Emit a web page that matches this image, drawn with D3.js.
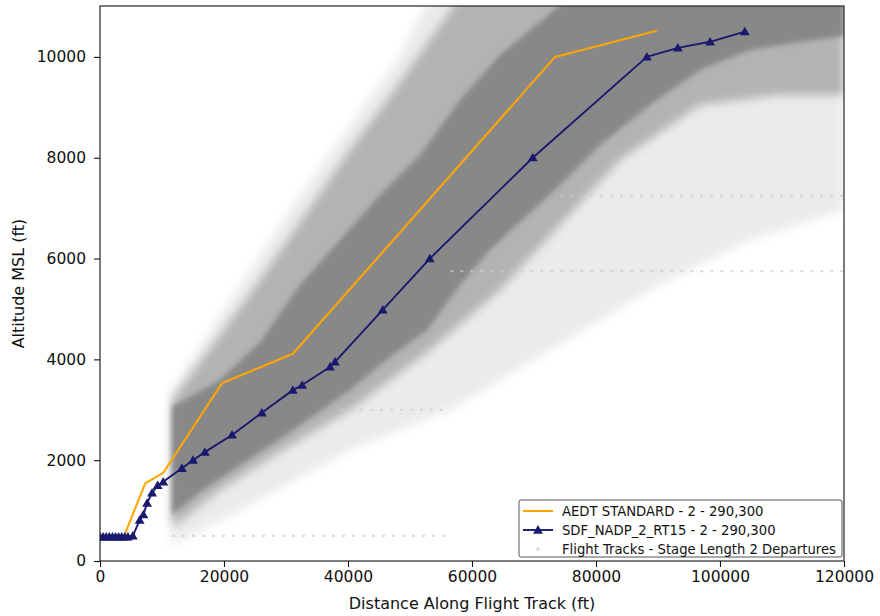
<!DOCTYPE html>
<html><head><meta charset="utf-8">
<script src="https://cdn.jsdelivr.net/npm/d3@7"></script>
<style>body{margin:0;background:#fff}svg{display:block}text{font-family:"DejaVu Sans",sans-serif;fill:#111}</style>
</head><body><svg id="c" width="880" height="616"></svg>
<script>
// ---- data ----
const xTicks = [0, 20000, 40000, 60000, 80000, 100000, 120000];
const yTicks = [0, 2000, 4000, 6000, 8000, 10000];

const aedtDist = [0, 3900, 7300, 10200, 19700, 31100, 73400, 89800];
const aedtAlt  = [500, 500, 1540, 1750, 3530, 4110, 10000, 10520];

const nadpDist = [0, 500, 1000, 1500, 2000, 2500, 3000, 3500, 4000, 4500, 5300, 6400, 7000, 7600, 8400, 9300, 10200,
                  13200, 15000, 16900, 21300, 26100, 31100, 32600, 37100, 37900, 45600, 53200, 69800, 88200, 93200, 98400, 104000];
const nadpAlt  = [480, 480, 480, 480, 480, 480, 480, 480, 480, 480, 500, 810, 920, 1150, 1350, 1500, 1570,
                  1840, 2000, 2160, 2500, 2940, 3390, 3490, 3850, 3950, 4980, 6000, 8000, 10000, 10180, 10300, 10500];

// flight-track cloud envelopes
const faintUpDist = [11610, 19350, 25810, 32260, 40320, 48390, 53230, 120000];
const faintUpAlt  = [3393, 4881, 6071, 7262, 8651, 10040, 11200, 11200];
const faintLoDist = [11610, 24190, 40320, 56450, 72580, 88710, 104840, 120000];
const faintLoAlt  = [317, 1111, 2202, 2996, 4187, 5377, 6369, 6964];

const midUpDist = [11610, 19350, 25810, 32260, 40320, 48390, 54840, 58060, 120000];
const midUpAlt  = [3194, 4484, 5575, 6726, 8155, 9504, 10635, 11200, 11200];
const midLoDist = [11610, 19350, 29520, 40320, 53230, 64520, 74190, 83870, 96770, 109680, 120000];
const midLoAlt  = [655, 1409, 2202, 2996, 4187, 5377, 6667, 7956, 9048, 9246, 9246];

const coreUpDist = [11610, 19350, 25810, 32260, 38710, 45160, 51610, 58060, 64520, 70970, 75810, 120000];
const coreUpAlt  = [3056, 3591, 4345, 5476, 6369, 7262, 8056, 9147, 10040, 10694, 11200, 11200];
const coreLoDist = [11610, 16130, 23390, 29520, 40320, 46770, 52740, 58060, 62900, 67740, 74190, 80650, 88710, 96770, 104840, 112900, 120000];
const coreLoAlt  = [913, 1369, 1964, 2460, 3393, 4048, 4583, 5476, 6171, 6726, 7460, 8254, 9048, 9742, 10139, 10298, 10417];

// level-off track segments
const levelAlt  = [500, 3000, 5750, 7250];
const levelFrom = [11600, 38700, 56500, 74200];
const levelTo   = [56000, 56500, 120000, 120000];

const legendLabels = ["AEDT STANDARD - 2 - 290,300", "SDF_NADP_2_RT15 - 2 - 290,300", "Flight Tracks - Stage Length 2 Departures"];

// ---- layout ----
const svg = d3.select("#c");
const L = 100, R = 844, T = 6, B = 561;
const x = d3.scaleLinear().domain([0, 120000]).range([L, R]);
const y = d3.scaleLinear().domain([0, 11010]).range([B, T]);

const defs = svg.append("defs");
defs.append("clipPath").attr("id", "clip").append("rect")
  .attr("x", L).attr("y", T).attr("width", R - L).attr("height", B - T);
defs.append("filter").attr("id", "soft").attr("x", "-5%").attr("y", "-5%").attr("width", "110%").attr("height", "110%")
  .append("feGaussianBlur").attr("stdDeviation", 2.5);
defs.append("filter").attr("id", "soft2").attr("x", "-5%").attr("y", "-5%").attr("width", "110%").attr("height", "110%")
  .append("feGaussianBlur").attr("stdDeviation", 5);

const plot = svg.append("g").attr("clip-path", "url(#clip)");

function band(upD, upA, loD, loA) {
  const pts = upD.map((d, i) => [x(d), y(upA[i])]);
  const lo = loD.map((d, i) => [x(d), y(loA[i])]).reverse();
  return d3.line()(pts.concat(lo)) + "Z";
}

plot.append("path").attr("d", band(faintUpDist, faintUpAlt, faintLoDist, faintLoAlt))
  .attr("fill", "#ebebeb").attr("filter", "url(#soft2)");
plot.append("path").attr("d", band(midUpDist, midUpAlt, midLoDist, midLoAlt))
  .attr("fill", "#b3b3b3").attr("filter", "url(#soft2)");
plot.append("path").attr("d", band(coreUpDist, coreUpAlt, coreLoDist, coreLoAlt))
  .attr("fill", "#888888").attr("filter", "url(#soft)");

// level-off tracks (faint dotted)
levelAlt.forEach((a, i) => {
  plot.append("line").attr("x1", x(levelFrom[i])).attr("x2", x(levelTo[i]))
    .attr("y1", y(a)).attr("y2", y(a))
    .attr("stroke", "#cccccc").attr("stroke-width", 2.2).attr("stroke-dasharray", "3,7").attr("opacity", 0.7);
});

// lines
const line = d3.line().x(d => x(d[0])).y(d => y(d[1]));
const aedt = aedtDist.map((d, i) => [d, aedtAlt[i]]);
const nadp = nadpDist.map((d, i) => [d, nadpAlt[i]]);

plot.append("path").attr("d", line(aedt)).attr("fill", "none").attr("stroke", "#ffa500").attr("stroke-width", 2.1).attr("stroke-linejoin", "round");
plot.append("path").attr("d", line(nadp)).attr("fill", "none").attr("stroke", "#191970").attr("stroke-width", 1.9).attr("stroke-linejoin", "round");
const tri = d3.symbol().type(d3.symbolTriangle).size(42);
plot.selectAll("path.m").data(nadp).enter().append("path").attr("class", "m")
  .attr("d", tri).attr("transform", d => `translate(${x(d[0])},${y(d[1]) + 0.8})`)
  .attr("fill", "#191970");

// axes
const xa = svg.append("g").attr("transform", `translate(0,${B})`)
  .call(d3.axisBottom(x).tickValues(xTicks).tickFormat(d3.format("d")).tickSize(6).tickPadding(4));
const ya = svg.append("g").attr("transform", `translate(${L},0)`)
  .call(d3.axisLeft(y).tickValues(yTicks).tickFormat(d3.format("d")).tickSize(6).tickPadding(8));
[xa, ya].forEach(g => {
  g.select(".domain").remove();
  g.selectAll("line").attr("stroke", "#111").attr("stroke-width", 1.1);
  g.selectAll("text").attr("font-size", 15.5).attr("fill", "#111").attr("font-family", "DejaVu Sans");
});
svg.append("rect").attr("x", L).attr("y", T).attr("width", R - L).attr("height", B - T)
  .attr("fill", "none").attr("stroke", "#111").attr("stroke-width", 1.1);

svg.append("text").attr("x", (L + R) / 2).attr("y", 609).attr("text-anchor", "middle")
  .attr("font-size", 16).text("Distance Along Flight Track (ft)");
svg.append("text").attr("transform", `translate(24,${(T + B) / 2}) rotate(-90)`).attr("text-anchor", "middle")
  .attr("font-size", 16).text("Altitude MSL (ft)");

// legend
const lg = svg.append("g");
lg.append("rect").attr("x", 519).attr("y", 500).attr("width", 323).attr("height", 57).attr("rx", 2)
  .attr("fill", "#fff").attr("fill-opacity", 0.85).attr("stroke", "#555").attr("stroke-width", 1);
const rows = [511, 530, 549];
lg.append("line").attr("x1", 523).attr("x2", 553).attr("y1", rows[0]).attr("y2", rows[0]).attr("stroke", "#ffa500").attr("stroke-width", 2.1);
lg.append("line").attr("x1", 523).attr("x2", 553).attr("y1", rows[1]).attr("y2", rows[1]).attr("stroke", "#191970").attr("stroke-width", 1.9);
lg.append("path").attr("d", tri).attr("transform", `translate(538,${rows[1] + 0.8})`).attr("fill", "#191970");
lg.append("circle").attr("cx", 538).attr("cy", rows[2]).attr("r", 1.8).attr("fill", "#d8d8d8");
legendLabels.forEach((t, i) => {
  lg.append("text").attr("x", 562).attr("y", rows[i]).attr("dy", "0.36em").attr("font-size", 13.2).text(t);
});
</script></body></html>
